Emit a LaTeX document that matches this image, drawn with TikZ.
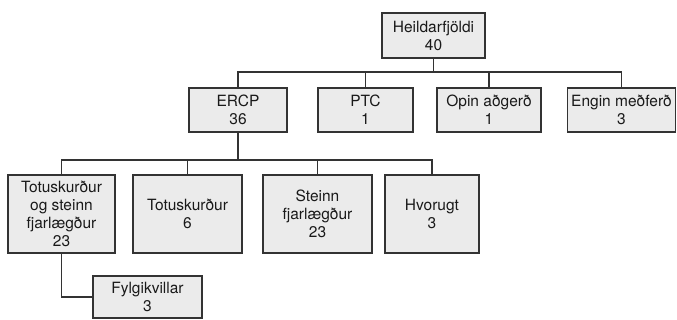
\documentclass[tikz,border=0pt]{standalone}
\usepackage{fontspec}
\setmainfont{TeX Gyre Heros}
\definecolor{boxfill}{HTML}{EBEBEB}
\definecolor{boxline}{HTML}{333333}
\begin{document}
\begin{tikzpicture}[x=1pt,y=-1pt,
  box/.style={draw=boxline,fill=boxfill,line width=1.1pt,inner sep=1pt,
    align=center,font=\fontsize{15.5}{18}\selectfont,text=black!90},
  conn/.style={draw=boxline,line width=1.1pt}]
\useasboundingbox (0,0) rectangle (677,320);
\node[box,minimum width=103pt,minimum height=45pt] (top) at (433.5,35.5) {Heildarfjöldi\\40};
\node[box,minimum width=98pt,minimum height=44pt] (ercp) at (238,110) {ERCP\\36};
\node[box,minimum width=95pt,minimum height=44pt] (ptc) at (365.5,110) {PTC\\1};
\node[box,minimum width=104pt,minimum height=44pt] (opin) at (489,110) {Opin aðgerð\\1};
\node[box,minimum width=108pt,minimum height=44pt] (engin) at (621.5,110) {Engin meðferð\\3};
\node[box,minimum width=107pt,minimum height=78pt] (both) at (61.5,214) {Totuskurður\\og steinn\\fjarlægður\\23};
\node[box,minimum width=109pt,minimum height=78pt] (totu) at (187.5,214) {Totuskurður\\6};
\node[box,minimum width=109pt,minimum height=78pt] (stein) at (317.5,214) {Steinn\\fjarlægður\\23};
\node[box,minimum width=94pt,minimum height=78pt] (hvor) at (432,214) {Hvorugt\\3};
\node[box,minimum width=109pt,minimum height=42pt] (fylg) at (147.5,297) {Fylgikvillar\\3};
\coordinate (h1) at (0,72);
\coordinate (h2) at (0,160);
\draw[conn] (top.south) -- (top.south |- h1);
\draw[conn] (ercp.north) -- (ercp.north |- h1) -- (engin.north |- h1) -- (engin.north);
\draw[conn] (ptc.north) -- (ptc.north |- h1);
\draw[conn] (opin.north) -- (opin.north |- h1);
\draw[conn] (ercp.south) -- (ercp.south |- h2);
\draw[conn] (both.north) -- (both.north |- h2) -- (hvor.north |- h2) -- (hvor.north);
\draw[conn] (totu.north) -- (totu.north |- h2);
\draw[conn] (stein.north) -- (stein.north |- h2);
\draw[conn] (both.south) |- (fylg.west);
\end{tikzpicture}
\end{document}
